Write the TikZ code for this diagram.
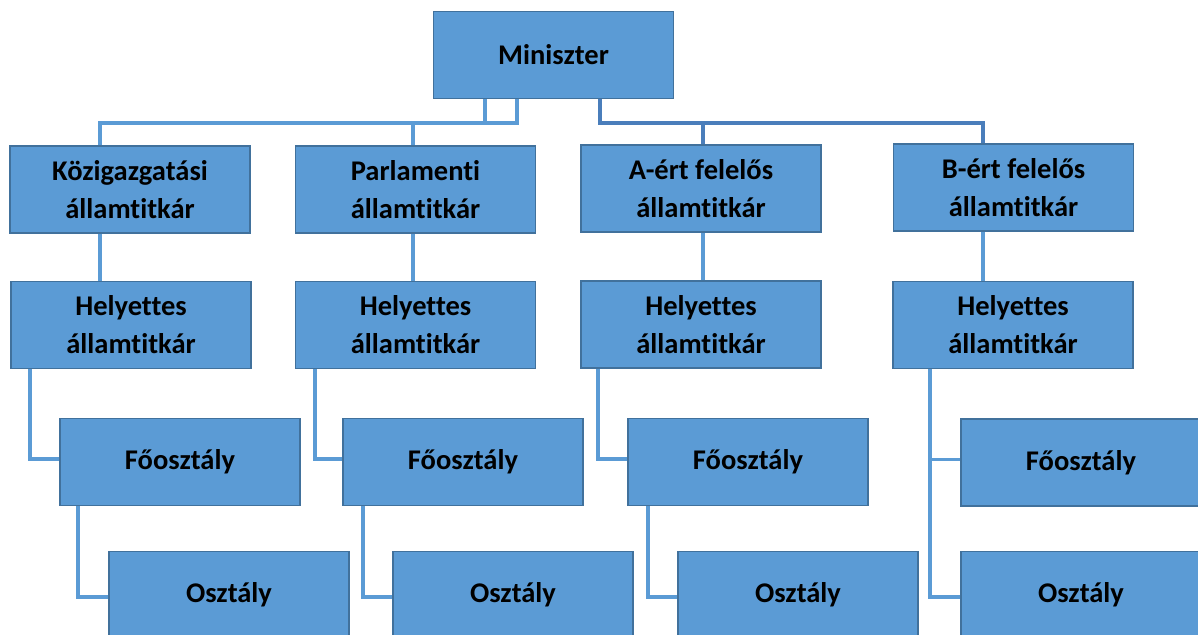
\documentclass[tikz,border=0pt]{standalone}
\usepackage{fontspec}
\setmainfont{Carlito}[Ligatures={NoCommon}]
\begin{document}
\begin{tikzpicture}[x=1pt,y=-1pt,
  box/.style={draw=boxedge,line width=1.6pt,fill=boxfill,rectangle,minimum width=240pt,minimum height=87pt,
    align=center,inner sep=0pt,font=\fontsize{28.5}{38}\selectfont\bfseries},
  lc/.style={draw=lconn,line width=3.8pt},
  rc/.style={draw=rconn,line width=3.8pt}]
\definecolor{boxfill}{HTML}{5B9BD5}
\definecolor{boxedge}{HTML}{41719C}
\definecolor{lconn}{HTML}{5B9BD5}
\definecolor{rconn}{HTML}{4A7EBB}
\useasboundingbox (0,0) rectangle (1198,634);
\fill[white] (0,0) rectangle (1198,634);
\clip (0,0) rectangle (1198,634);
% nodes
\node[box] (M) at (553.5,55) {Miniszter};
\node[box] (K) at (130,189.5) {Közigazgatási\\államtitkár};
\node[box] (P) at (415.5,189.5) {Parlamenti\\államtitkár};
\node[box] (A) at (701,188.5) {A-ért felelős\\államtitkár};
\node[box] (B) at (1013.5,187.5) {B-ért felelős\\államtitkár};
\node[box] (H1) at (131,325) {Helyettes\\államtitkár};
\node[box] (H2) at (415.5,325) {Helyettes\\államtitkár};
\node[box] (H3) at (701,324.5) {Helyettes\\államtitkár};
\node[box] (H4) at (1013,325) {Helyettes\\államtitkár};
\node[box] (F1) at (180,462) {Főosztály};
\node[box] (F2) at (463,462) {Főosztály};
\node[box] (F3) at (748,462) {Főosztály};
\node[box] (F4) at (1081,462.5) {Főosztály};
\node[box] (O1) at (229,595) {Osztály};
\node[box] (O2) at (513,595) {Osztály};
\node[box] (O3) at (798,595) {Osztály};
\node[box] (O4) at (1081,595) {Osztály};
% connectors from Miniszter
\draw[lc] ([xshift=-68.5pt]M.south) -- ++(0,24) -| ([xshift=-30pt]K.north);
\draw[lc] ([xshift=-36.5pt]M.south) -- ++(0,24) -| ([xshift=-2.5pt]P.north);
\draw[rc] ([xshift=46.5pt]M.south) -- ++(0,24) -| ([xshift=-30.5pt]B.north);
\draw[rc] ([xshift=2pt]A.north) -- ++(0,-23);
% level 1 to level 2
\draw[lc] ([xshift=-30pt]K.south) -- ([xshift=-31pt]H1.north);
\draw[lc] ([xshift=-2.5pt]P.south) -- ([xshift=-2.5pt]H2.north);
\draw[lc] ([xshift=2pt]A.south) -- ([xshift=2pt]H3.north);
\draw[lc] ([xshift=-30.5pt]B.south) -- ([xshift=-30pt]H4.north);
% level 2 to Főosztály
\draw[lc] ([xshift=-101pt]H1.south) |- ([yshift=3pt]F1.west);
\draw[lc] ([xshift=-100.5pt]H2.south) |- ([yshift=3pt]F2.west);
\draw[lc] ([xshift=-103pt]H3.south) |- ([yshift=3pt]F3.west);
\draw[lc] ([xshift=-83pt]H4.south) |- ([yshift=3pt]F4.west);
\draw[lc] ([xshift=-83pt]H4.south) |- ([yshift=-2pt]O4.west);
% Főosztály to Osztály
\draw[lc] ([xshift=-102pt]F1.south) |- ([yshift=-2pt]O1.west);
\draw[lc] ([xshift=-100pt]F2.south) |- ([yshift=-2pt]O2.west);
\draw[lc] ([xshift=-100pt]F3.south) |- ([yshift=-2pt]O3.west);
\end{tikzpicture}
\end{document}
